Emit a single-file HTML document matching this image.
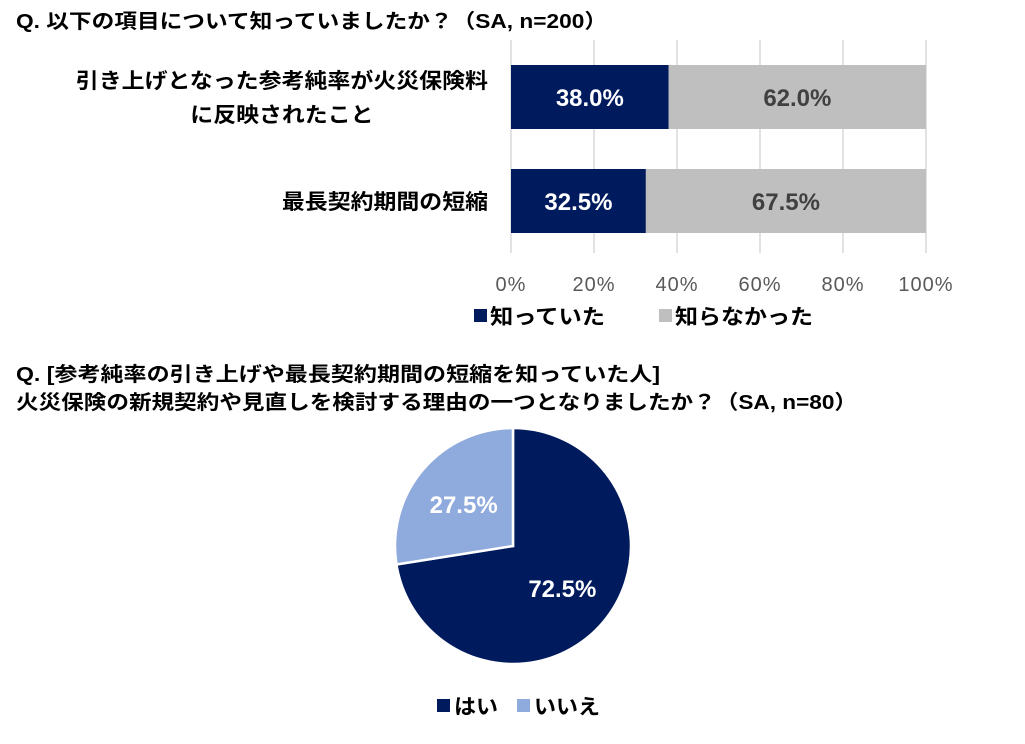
<!DOCTYPE html>
<html><head><meta charset="utf-8"><style>
body{margin:0;background:#fff;width:1025px;height:739px;overflow:hidden}
svg{font-family:"Liberation Sans","Noto Sans CJK JP",sans-serif}
</style></head><body>
<svg id="c" width="1025" height="739">
<text x="16" y="28" font-size="20" font-weight="bold" fill="#000" textLength="591" lengthAdjust="spacingAndGlyphs">Q. 以下の項目について知っていましたか？（SA, n=200）</text>
<g id="bars"></g>
<text x="16" y="381" font-size="20" font-weight="bold" fill="#000" textLength="644" lengthAdjust="spacingAndGlyphs">Q. [参考純率の引き上げや最長契約期間の短縮を知っていた人]</text>
<text x="16" y="409" font-size="20" font-weight="bold" fill="#000" textLength="841" lengthAdjust="spacingAndGlyphs">火災保険の新規契約や見直しを検討する理由の一つとなりましたか？（SA, n=80）</text>
<g id="pie"></g>
</svg>
<script>
const categories=[["引き上げとなった参考純率が火災保険料","に反映されたこと"],["最長契約期間の短縮"]];
const knew=[38.0,32.5];
const notKnew=[62.0,67.5];
const ticks=["0%","20%","40%","60%","80%","100%"];
const tickVals=[0,20,40,60,80,100];
const seriesNames=["知っていた","知らなかった"];
const pieLabels=["はい","いいえ"];
const pieVals=[72.5,27.5];
const NS="http://www.w3.org/2000/svg";
function mk(t,a,p,txt){const e=document.createElementNS(NS,t);for(const k in a)e.setAttribute(k,a[k]);if(txt!=null)e.textContent=txt;p.appendChild(e);return e;}
const g=document.getElementById('bars');
const x=v=>511+v/100*415;
const bandTop=[65,169],bh=64;
tickVals.forEach((v,i)=>{
 const l=mk('line',{x1:x(v),x2:x(v),y1:40,y2:253,stroke:'#d9d9d9','stroke-width':1.5},g);
 
 const t=mk('text',{x:x(v),y:291,'text-anchor':'middle','font-size':20,fill:'#595959','letter-spacing':1},g,ticks[i]);
 
});
categories.forEach((c,i)=>{
 const y=bandTop[i];
 const r1=mk('rect',{x:x(0),y:y,width:x(knew[i])-x(0),height:bh,fill:'#001a5e'},g);
 
 const r2=mk('rect',{x:x(knew[i]),y:y,width:x(knew[i]+notKnew[i])-x(knew[i]),height:bh,fill:'#bfbfbf'},g);
 
 const t1=mk('text',{x:(x(0)+x(knew[i]))/2,y:y+bh/2+9,'text-anchor':'middle','font-size':24,'font-weight':'bold',fill:'#fff'},g,knew[i].toFixed(1)+'%');
 
 const t2=mk('text',{x:(x(knew[i])+x(knew[i]+notKnew[i]))/2,y:y+bh/2+9,'text-anchor':'middle','font-size':24,'font-weight':'bold',fill:'#404040'},g,notKnew[i].toFixed(1)+'%');
 
 const n=c.length;
 const w0=c[0].length*22.9;
 c.forEach((s,j)=>{
  const w=s.length*22.9;
  const t=mk('text',{x:488-w0/2,y:y+bh/2+8+(j-(n-1)/2)*34,'text-anchor':'middle','font-size':21,'font-weight':'bold',fill:'#000',textLength:w,lengthAdjust:'spacingAndGlyphs'},g,s);
  
 });
});
[[474,'#001a5e',115],[659,'#bfbfbf',138]].forEach((p,i)=>{
 const r=mk('rect',{x:p[0],y:309,width:13,height:13,fill:p[1]},g);
 
 const t=mk('text',{x:p[0]+16,y:324,'font-size':21,'font-weight':'bold',fill:'#000',textLength:p[2],lengthAdjust:'spacingAndGlyphs'},g,seriesNames[i]);
 
});
const pg=document.getElementById('pie');
const cx=513,cy=546,R=118,cols=['#001a5e','#8faadc'];
const tot=pieVals.reduce((a,b)=>a+b,0);let a0=-Math.PI/2;
pieVals.forEach((v,i)=>{
 const a1=a0+v/tot*2*Math.PI;
 const lg=(a1-a0)>Math.PI?1:0;
 const d=`M${cx},${cy}L${cx+R*Math.cos(a0)},${cy+R*Math.sin(a0)}A${R},${R} 0 ${lg} 1 ${cx+R*Math.cos(a1)},${cy+R*Math.sin(a1)}Z`;
 const p=mk('path',{d:d,fill:cols[i],stroke:'#fff','stroke-width':2.5},pg);
 
 const am=(a0+a1)/2;
 const t=mk('text',{x:cx+R*0.55*Math.cos(am),y:cy+R*0.55*Math.sin(am)+9,'text-anchor':'middle','font-size':24,'font-weight':'bold',fill:'#fff'},pg,v.toFixed(1)+'%');
 
 a0=a1;
});
[[437,'#001a5e',44],[517,'#8faadc',66]].forEach((p,i)=>{
 const r=mk('rect',{x:p[0],y:699,width:13,height:13,fill:p[1]},pg);
 
 const t=mk('text',{x:p[0]+17,y:714,'font-size':21,'font-weight':'bold',fill:'#000',textLength:p[2],lengthAdjust:'spacingAndGlyphs'},pg,pieLabels[i]);
 
});
</script>
</body></html>
